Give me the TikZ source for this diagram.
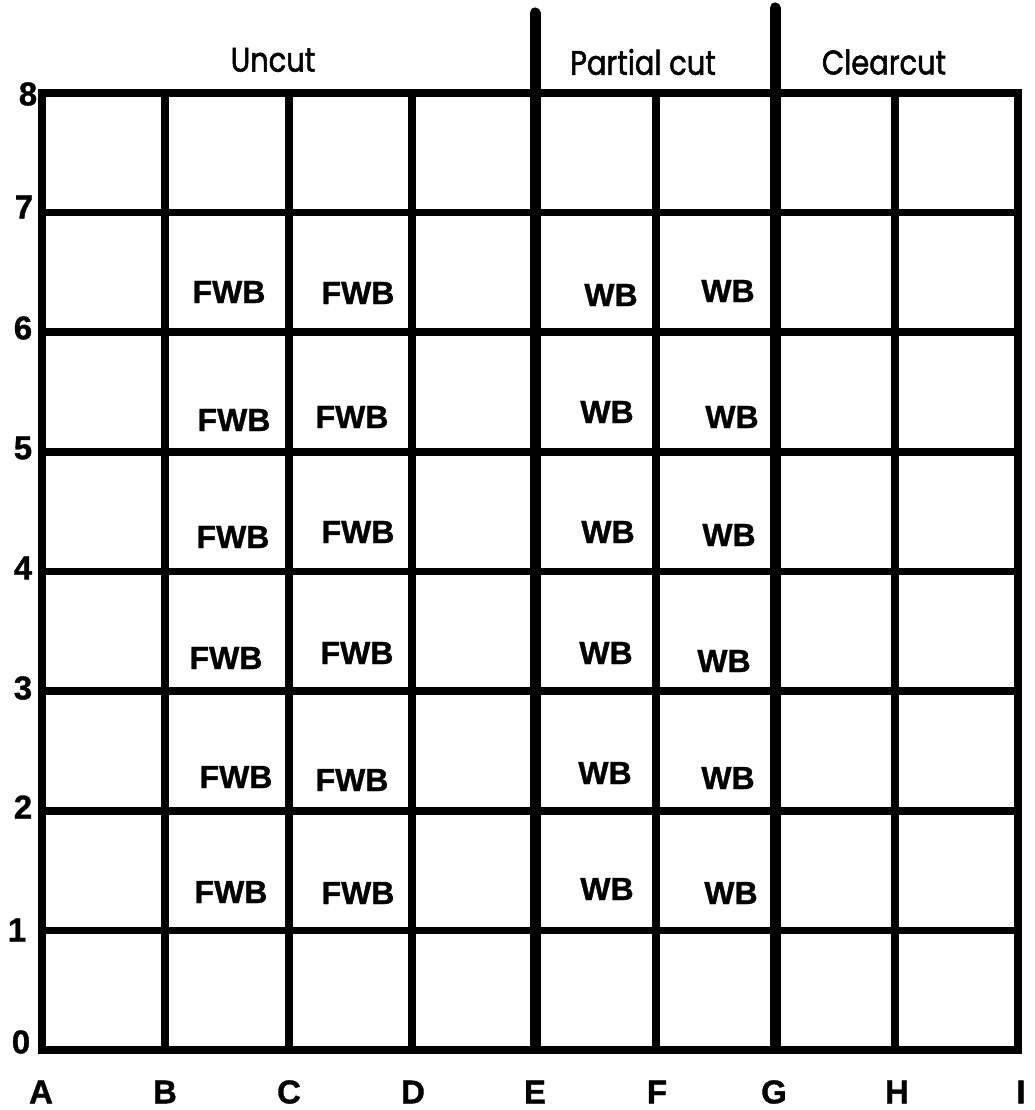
\documentclass[tikz,border=0pt]{standalone}
\usepackage{fontspec}
\setmainfont{Liberation Sans}[BoldFeatures={FakeBold=1}]
\newfontfamily\zonefont[FakeStretch=0.85,FakeBold=1.5]{Poppins}

\begin{document}
\begin{tikzpicture}[x=1pt,y=-1pt,
 gline/.style={line width=7.5pt,line cap=rect},
 cutline/.style={line width=11pt,line cap=round},
 plot/.style={font=\fontsize{32}{34}\selectfont\bfseries,inner sep=0pt},
 axlab/.style={font=\fontsize{33}{35}\selectfont\bfseries,inner sep=0pt},
 zone/.style={font=\zonefont\fontsize{34}{36}\selectfont,inner sep=0pt}]
\useasboundingbox (0,0) rectangle (1034,1110);
% grid
\foreach \y in {93,212.5,332,452,571.5,691,811,930.5,1050}
  \draw[gline] (42,\y) -- (1018,\y);
\foreach \x in {42,165,289,412,656,895,1018}
  \draw[gline] (\x,93) -- (\x,1050);
% treatment boundaries
\draw[cutline] (535,13) -- (535,1048);
\draw[cutline] (775,8) -- (775,1048);
% treatments
\node[zone] (uncut) at (273,60) {Uncut};
\node[zone] (partial) at (643,62) {Partial cut};
\node[zone] (clear) at (884,62) {Clearcut};
% row and column labels
\foreach \r/\x/\y in {0/21/1042,1/17/930,2/23/807,3/23/688,4/23/568,5/23/448,6/23/328,7/24/207,8/28/94}
  \node[axlab] (row\r) at (\x,\y) {\r};
\foreach \c/\x in {A/41,B/165,C/289,D/413,E/535,F/657,G/774,H/897,I/1021}
  \node[axlab] (col\c) at (\x,1092) {\c};
% plots
\foreach \x/\y [count=\i] in {229/292,358/293,234/420,352/417,233/537,358/532,226/658,357/653,236/777,352/780,231/892,358/893}
  \node[plot] (fwb\i) at (\x,\y) {FWB};
\foreach \x/\y [count=\i] in {611/295,728/291,607/412,732/417,608/532,729/535,606/653,724/661,605/773,728/778,607/889,731/893}
  \node[plot] (wb\i) at (\x,\y) {WB};
\end{tikzpicture}
\end{document}
